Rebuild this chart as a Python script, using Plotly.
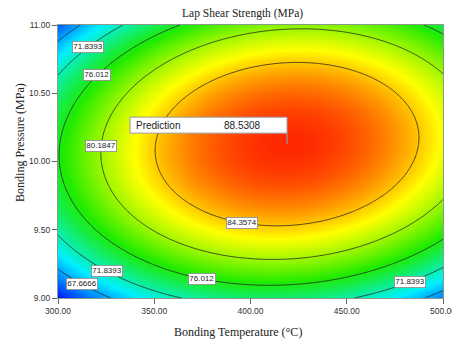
import numpy as np
import plotly.graph_objects as go

# ---- data: fitted quadratic response surface (coded units: A=(T-400)/100, B=(P-10)/1)
TEMP_RANGE = [300.0, 500.0]
PRESS_RANGE = [9.0, 11.0]
COEF_B0 = 88.08
COEF_A = 3.215
COEF_B = 2.7
COEF_AB = 1.6
COEF_AA = -9.0
COEF_BB = -11.8
CONTOUR_LEVELS = [67.6666, 71.8393, 76.012, 80.1847, 84.3574]
PREDICTION_VALUE = 88.5308
X_TICKS = [300, 350, 400, 450, 500]
X_TICK_TEXT = ["300.00", "350.00", "400.00", "450.00", "500.00"]
Y_TICKS = [9.0, 9.5, 10.0, 10.5, 11.0]
Y_TICK_TEXT = ["9.00", "9.50", "10.00", "10.50", "11.00"]

# label placement (layout): (level index, fixed axis, fixed value, root side)
LABEL_SPECS = [
    (1, "T", 315.6, "hi"),
    (2, "T", 320.3, "hi"),
    (3, "P", 10.11, "lo"),
    (4, "T", 395.6, "lo"),
    (1, "T", 325.5, "lo"),
    (0, "T", 312.5, "lo"),
    (2, "T", 374.8, "lo"),
    (1, "T", 482.9, "lo"),
]


def model(T, P):
    A = (T - 400.0) / 100.0
    B = (P - 10.0)
    return (COEF_B0 + COEF_A * A + COEF_B * B + COEF_AB * A * B
            + COEF_AA * A ** 2 + COEF_BB * B ** 2)


T = np.linspace(TEMP_RANGE[0], TEMP_RANGE[1], 241)
P = np.linspace(PRESS_RANGE[0], PRESS_RANGE[1], 241)
TT, PP = np.meshgrid(T, P)
Z = model(TT, PP)

# stationary point (prediction flag location)
M = np.array([[2 * COEF_AA, COEF_AB], [COEF_AB, 2 * COEF_BB]])
sol = np.linalg.solve(M, -np.array([COEF_A, COEF_B]))
T_pk = 400.0 + 100.0 * sol[0]
P_pk = 10.0 + sol[1]

colorscale = [
    [0.0, "rgb(0,20,255)"],
    [0.27, "rgb(0,240,255)"],
    [0.53, "rgb(30,235,0)"],
    [0.78, "rgb(255,255,0)"],
    [1.0, "rgb(255,40,0)"],
]

fig = go.Figure()
fig.add_trace(go.Heatmap(
    x=T, y=P, z=Z, colorscale=colorscale, zsmooth="best",
    zmin=float(Z.min()), zmax=float(Z.max()), showscale=False, hoverinfo="skip"))
fig.add_trace(go.Contour(
    x=T, y=P, z=Z,
    contours=dict(start=CONTOUR_LEVELS[0], end=CONTOUR_LEVELS[-1] + 0.001,
                  size=CONTOUR_LEVELS[1] - CONTOUR_LEVELS[0], coloring="none"),
    line=dict(color="rgba(30,30,30,0.85)", width=0.9, smoothing=1.0),
    showscale=False, hoverinfo="skip"))


def solve_label(level, axis, val, side):
    if axis == "T":
        A = (val - 400.0) / 100.0
        c2 = COEF_BB
        c1 = COEF_B + COEF_AB * A
        c0 = COEF_B0 + COEF_A * A + COEF_AA * A ** 2 - level
    else:
        B = val - 10.0
        c2 = COEF_AA
        c1 = COEF_A + COEF_AB * B
        c0 = COEF_B0 + COEF_B * B + COEF_BB * B ** 2 - level
    d = np.sqrt(max(c1 * c1 - 4 * c2 * c0, 0.0))
    r = sorted([(-c1 + d) / (2 * c2), (-c1 - d) / (2 * c2)])
    root = r[1] if side == "hi" else r[0]
    if axis == "T":
        return val, 10.0 + root
    return 400.0 + 100.0 * root, val


annotations = []
for idx, axis, val, side in LABEL_SPECS:
    lv = CONTOUR_LEVELS[idx]
    x, y = solve_label(lv, axis, val, side)
    annotations.append(dict(
        x=x, y=y, xref="x", yref="y", text=str(lv), showarrow=False,
        font=dict(family="Liberation Sans", size=8, color="#222"),
        bgcolor="white", bordercolor="#888", borderwidth=0.8, borderpad=0.5))

# prediction flag
annotations.append(dict(
    x=T_pk, y=P_pk, xref="x", yref="y", text="Prediction", showarrow=False,
    xanchor="left", yanchor="middle", xshift=-153, yshift=19,
    font=dict(family="Liberation Sans", size=10, color="#222")))
annotations.append(dict(
    x=T_pk, y=P_pk, xref="x", yref="y", text=f"{PREDICTION_VALUE:.4f}",
    showarrow=False, xanchor="left", yanchor="middle", xshift=-65, yshift=19,
    font=dict(family="Liberation Sans", size=10, color="#222")))

# axis titles (placed as in the reference, slightly off-centre)
annotations.append(dict(
    x=0.4675, y=0, xref="paper", yref="paper", yshift=-34, showarrow=False,
    xanchor="center", yanchor="middle", text="Bonding Temperature (°C)",
    font=dict(family="Liberation Serif", size=12, color="#222")))
annotations.append(dict(
    x=0, y=0.568, xref="paper", yref="paper", xshift=-38, showarrow=False,
    xanchor="center", yanchor="middle", textangle=-90,
    text="Bonding Pressure (MPa)",
    font=dict(family="Liberation Serif", size=12, color="#222")))

shapes = [
    dict(type="rect", xref="x", yref="y", xsizemode="pixel", ysizemode="pixel",
         xanchor=T_pk, yanchor=P_pk, x0=-157, x1=0, y0=11, y1=27,
         fillcolor="white", line=dict(color="#999", width=1), layer="above"),
    dict(type="line", xref="x", yref="y", xsizemode="pixel", ysizemode="pixel",
         xanchor=T_pk, yanchor=P_pk, x0=0, x1=0, y0=0, y1=11,
         line=dict(color="#a090b0", width=1.2), layer="above"),
]

# the page body has an 8px default margin, so the figure is offset by 8px
fig.update_layout(
    width=452, height=336,
    margin=dict(l=50, r=17, t=17, b=46, autoexpand=False),
    paper_bgcolor="white", plot_bgcolor="white",
    title=dict(text="Lap Shear Strength (MPa)", x=0.519, xanchor="center",
               y=0.986, yanchor="middle",
               font=dict(family="Liberation Serif", size=11.5, color="#222")),
    annotations=annotations, shapes=shapes,
    showlegend=False,
)
fig.update_xaxes(
    range=TEMP_RANGE, tickvals=X_TICKS, ticktext=X_TICK_TEXT, automargin=False,
    ticks="outside", ticklen=5, tickcolor="#666", showgrid=False, zeroline=False,
    showline=True, linecolor="#8a9a8a", linewidth=1, mirror=True,
    tickfont=dict(family="Liberation Sans", size=8.5, color="#333"))
fig.update_yaxes(
    range=PRESS_RANGE, tickvals=Y_TICKS, ticktext=Y_TICK_TEXT, automargin=False,
    ticks="outside", ticklen=5, tickcolor="#666", showgrid=False, zeroline=False,
    showline=True, linecolor="#8a9a8a", linewidth=1, mirror=True,
    tickfont=dict(family="Liberation Sans", size=8.5, color="#333"))

fig.write_html("out.html")
